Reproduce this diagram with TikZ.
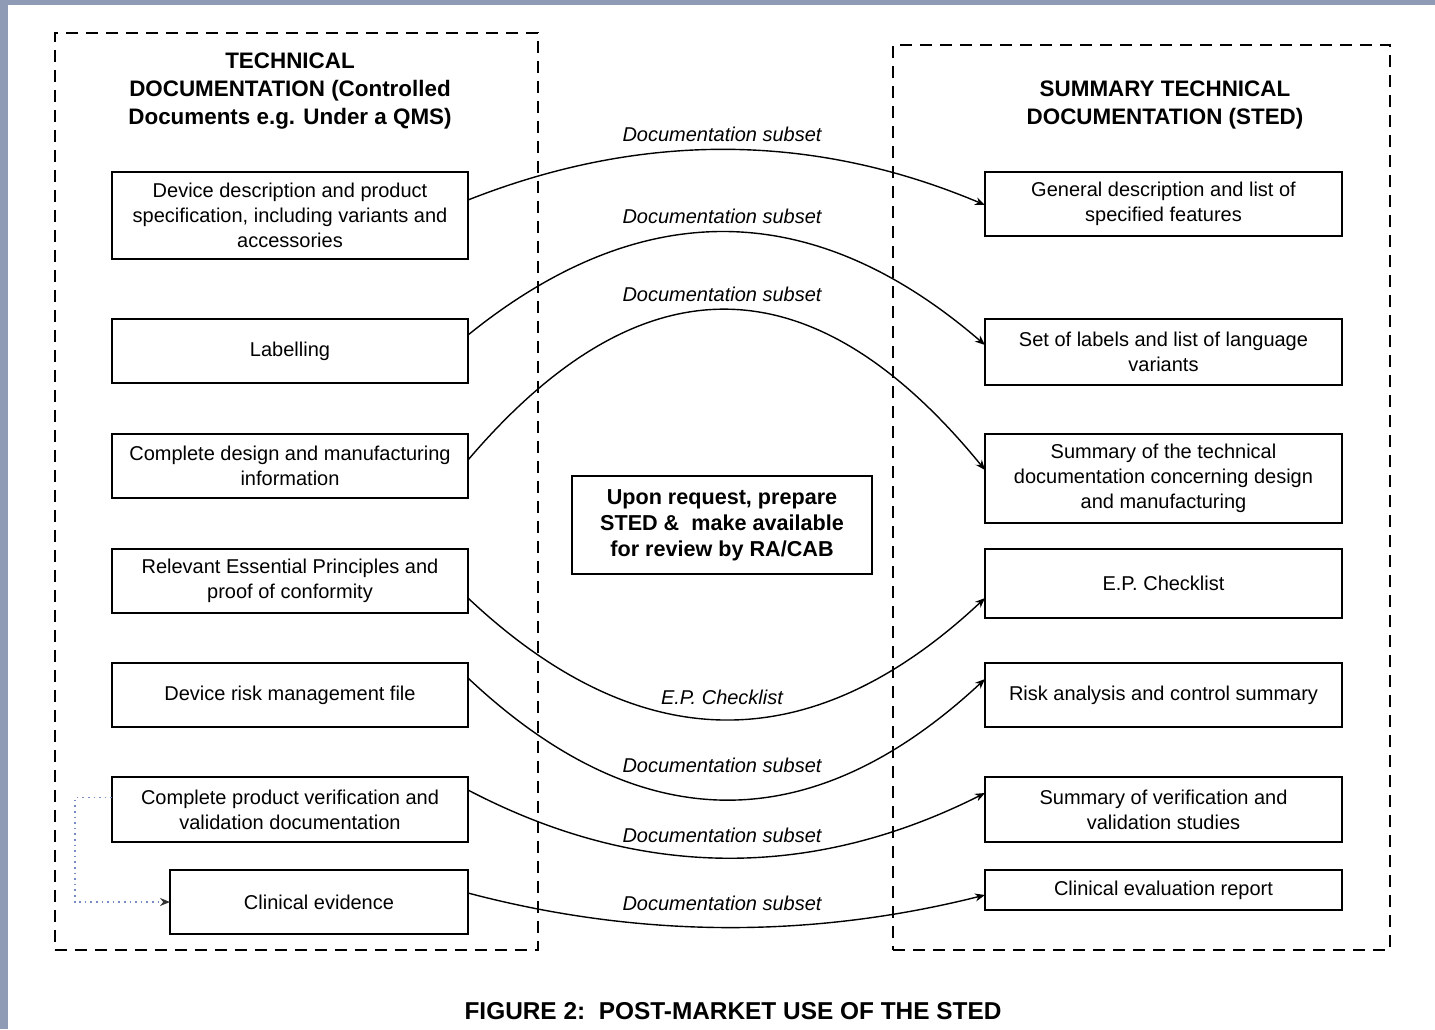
\documentclass[tikz,border=0pt]{standalone}
\usepackage{fontspec}
\setmainfont{Liberation Sans}
\usetikzlibrary{arrows.meta,calc}
\definecolor{edgegrey}{RGB}{143,154,180}
\definecolor{dotblue}{RGB}{120,140,200}
\begin{document}
\begin{tikzpicture}[x=0.5pt,y=-0.5pt,
  box/.style={draw,line width=0.9pt,align=center,inner sep=0pt,outer sep=0pt,font=\fontsize{10}{12.4}\selectfont},
  frame/.style={draw,dash pattern=on 6pt off 4pt,line width=1pt,inner sep=0pt,outer sep=0pt},
  ttl/.style={align=center,font=\bfseries\fontsize{11.2}{14}\selectfont},
  conn/.style={line width=0.7pt,-{Stealth[length=5pt,width=4pt]}},
  lab/.style={font=\itshape\fontsize{10}{12}\selectfont},
  dotconn/.style={dotted,line width=0.8pt,draw=dotblue,-{Stealth[length=5pt,width=4pt,color=black!80,fill=black!80]}}]
\useasboundingbox (0,0) rectangle (1435,1029);
\fill[white] (0,0) rectangle (1435,1029);
\fill[edgegrey] (0,0) rectangle (1435,5);
\fill[edgegrey] (0,0) rectangle (8,1029);

% frames
\node[frame,minimum width=241.5pt,minimum height=458.5pt] (FL) at (296.5,491.5) {};
\node[frame,minimum width=248.5pt,minimum height=452.5pt] (FR) at (1141.5,497.5) {};

% titles
\node[ttl] (TL) at (290,91) {TECHNICAL\\DOCUMENTATION (Controlled\\Documents e.g. Under a QMS)};
\node[ttl] (TR) at (1165,105) {SUMMARY TECHNICAL\\DOCUMENTATION (STED)};

% left boxes
\node[box,minimum width=178pt,minimum height=43.5pt] (L1) at (290,215.5) {Device description and product\\specification, including variants and\\accessories};
\node[box,minimum width=178pt,minimum height=32pt] (L2) at (290,351) {Labelling};
\node[box,minimum width=178pt,minimum height=32pt] (L3) at (290,466) {Complete design and manufacturing\\information};
\node[box,minimum width=178pt,minimum height=32pt] (L4) at (290,581) {Relevant Essential Principles and\\proof of conformity};
\node[box,minimum width=178pt,minimum height=32pt] (L5) at (290,695) {Device risk management file};
\node[box,minimum width=178pt,minimum height=32.5pt] (L6) at (290,809.5) {Complete product verification and\\validation documentation};
\node[box,minimum width=149pt,minimum height=32pt] (L7) at (319,902) {Clinical evidence};

% right boxes
\node[box,minimum width=178.5pt,minimum height=32pt] (R1) at (1163.5,204) {General description and list of\\specified features};
\node[box,minimum width=178.5pt,minimum height=33pt] (R2) at (1163.5,352) {Set of labels and list of language\\variants};
\node[box,minimum width=178.5pt,minimum height=44.5pt] (R3) at (1163.5,478.5) {Summary of the technical\\documentation concerning design\\and manufacturing};
\node[box,minimum width=178.5pt,minimum height=34.5pt] (R4) at (1163.5,583.5) {E.P. Checklist};
\node[box,minimum width=178.5pt,minimum height=32pt] (R5) at (1163.5,695) {Risk analysis and control summary};
\node[box,minimum width=178.5pt,minimum height=32.5pt] (R6) at (1163.5,809.5) {Summary of verification and\\validation studies};
\node[box,minimum width=178.5pt,minimum height=20pt] (R7) at (1163.5,890) {Clinical evaluation report};

% centre box
\node[box,minimum width=150pt,minimum height=49pt,font=\bfseries\fontsize{10.8}{13}\selectfont] (C) at (722,525) {Upon request, prepare\\STED \&\ \ make available\\for review by RA/CAB};

% connectors
\draw[conn] ($(L1.east)+(0,-15.5)$) .. controls (640,132) and (812,132) .. ($(R1.west)+(0,1)$);
\draw[conn] ($(L2.east)+(0,-16)$) .. controls (640,196) and (812,196) .. ($(R2.west)+(0,-7)$);
\draw[conn] ($(L3.east)+(0,-6)$) .. controls (640,258) and (812,258) .. ($(R3.west)+(0,-8.5)$);
\draw[conn] ($(L4.east)+(0,17)$) .. controls (640,760) and (812,760) .. ($(R4.west)+(0,14.5)$);
\draw[conn] ($(L5.east)+(0,-17)$) .. controls (640,840) and (812,840) .. ($(R5.west)+(0,-16)$);
\draw[conn] ($(L6.east)+(0,-19.5)$) .. controls (640,880) and (812,880) .. ($(R6.west)+(0,-16.5)$);
\draw[conn] ($(L7.east)+(0,-9)$) .. controls (640,938.5) and (812,938.5) .. ($(R7.west)+(0,5)$);

% labels
\node[lab] (D1) at (722,134) {Documentation subset};
\node[lab] (D2) at (722,216) {Documentation subset};
\node[lab] (D3) at (722,294) {Documentation subset};
\node[lab] (D4) at (722,697) {E.P. Checklist};
\node[lab] (D5) at (722,765) {Documentation subset};
\node[lab] (D6) at (722,835) {Documentation subset};
\node[lab] (D7) at (722,903) {Documentation subset};

% dotted link
\draw[dotconn] ($(L6.west)+(0,-12)$) -- ++(-37,0) |- (L7.west);

% caption
\node[font=\bfseries\fontsize{12.2}{14}\selectfont] (CAP) at (733,1011) {FIGURE 2:\ \ POST-MARKET USE OF THE STED};
\end{tikzpicture}
\end{document}
